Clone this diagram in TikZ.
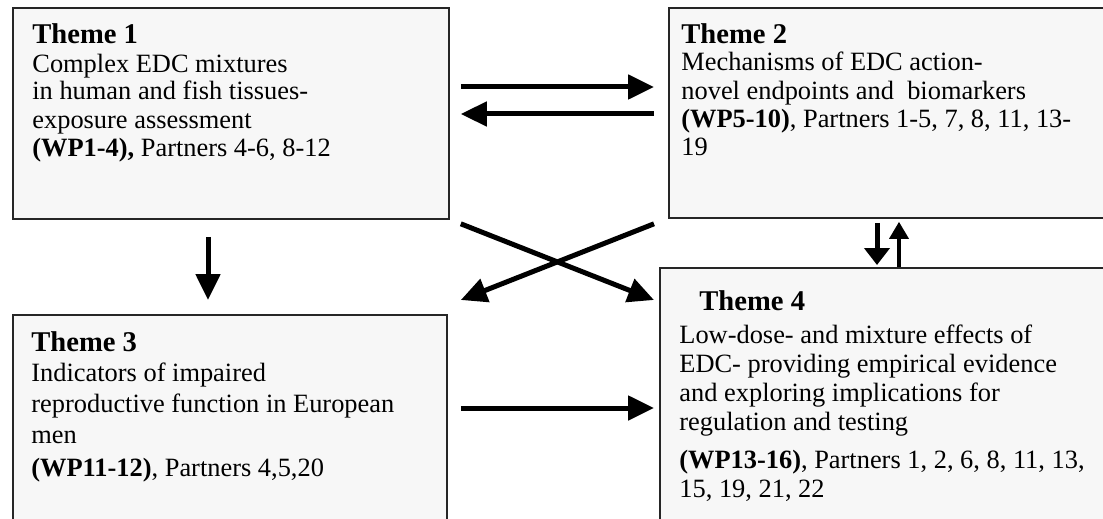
\documentclass[tikz,border=0pt]{standalone}
\usepackage{fontspec}
\setmainfont{Liberation Serif}
\usetikzlibrary{arrows.meta, calc, positioning}
\definecolor{boxgray}{HTML}{F7F7F7}

\begin{document}
\begin{tikzpicture}[x=0.5pt, y=-0.5pt,
    themebox/.style={draw=black!85, line width=0.9pt, fill=boxgray, anchor=north west, inner sep=0pt},
    linetext/.style={anchor=base west, inner sep=0pt, font=\fontsize{13.2}{16}\selectfont},
    titletext/.style={anchor=base west, inner sep=0pt, font=\fontsize{14.3}{17}\selectfont\bfseries},
    bigarrow/.style={line width=2.5pt, -{Triangle[length=13pt, width=12pt]}},
    downarrow/.style={line width=2.5pt, -{Triangle[length=8.5pt, width=12.5pt]}},
    uparrow/.style={line width=1.75pt, -{Triangle[length=8.5pt, width=9.5pt]}}]
\useasboundingbox (0,0) rectangle (1103,519);
\clip (0,0) rectangle (1103,519);

\node[themebox, minimum width=218pt, minimum height=105.5pt] (t1) at (12,7) {};
\node[themebox, minimum width=225pt, minimum height=105pt] (t2) at (668,7) {};
\node[themebox, minimum width=217pt, minimum height=115pt] (t3) at (12,314) {};
\node[themebox, minimum width=230pt, minimum height=140pt] (t4) at (659,267) {};

\node[titletext] (t1title) at (32,44) {Theme 1};
\foreach \y/\txt [count=\i] in {72.7/{Complex EDC mixtures},
    100/{in human and fish tissues-},
    128.3/{exposure assessment},
    156/{\textbf{(WP1-4),} Partners 4-6, 8-12}}
  \node[linetext] (t1line\i) at (32,\y) {\txt};

\node[titletext] (t2title) at (681,43.3) {Theme 2};
\foreach \y/\txt [count=\i] in {71/{Mechanisms of EDC action-},
    99.3/{novel endpoints and~ biomarkers},
    127.7/{\textbf{(WP5-10)}, Partners 1-5, 7, 8, 11, 13-},
    155.7/{19}}
  \node[linetext] (t2line\i) at (681,\y) {\txt};

\node[titletext] (t3title) at (31,351.7) {Theme 3};
\foreach \y/\txt [count=\i] in {381.7/{Indicators of impaired},
    412.7/{reproductive function in European},
    443.3/{men},
    476.7/{\textbf{(WP11-12)}, Partners 4,5,20}}
  \node[linetext] (t3line\i) at (31,\y) {\txt};

\node[titletext] (t4title) at (699,310) {Theme 4};
\foreach \y/\txt [count=\i] in {343.3/{Low-dose- and mixture effects of},
    372.3/{EDC- providing empirical evidence},
    401/{and exploring implications for},
    430/{regulation and testing},
    468.3/{\textbf{(WP13-16)}, Partners 1, 2, 6, 8, 11, 13,},
    497.7/{15, 19, 21, 22}}
  \node[linetext] (t4line\i) at (679,\y) {\txt};

\draw[bigarrow] ($(t1.north east)+(11,80)$) -- ($(t2.north west)+(-14,80)$);
\draw[bigarrow] ($(t2.north west)+(-14,107)$) -- ($(t1.north east)+(11,107)$);
\draw[bigarrow] ($(t1.south east)+(11,4)$) -- ($(t4.north west)+(-5,33)$);
\draw[bigarrow] ($(t2.south west)+(-14,5)$) -- ($(t3.north east)+(13,-14)$);
\draw[bigarrow] ($(t1.south west)+(196,17)$) -- ($(t3.north west)+(196,-14)$);
\draw[bigarrow] ($(t3.north east)+(13,94)$) -- ($(t4.north west)+(-5,141)$);
\draw[downarrow] ($(t2.south west)+(209,4)$) -- ($(t4.north west)+(218,-2)$);
\draw[uparrow] ($(t4.north west)+(240,0)$) -- ($(t2.south west)+(231,3)$);
\end{tikzpicture}
\end{document}
